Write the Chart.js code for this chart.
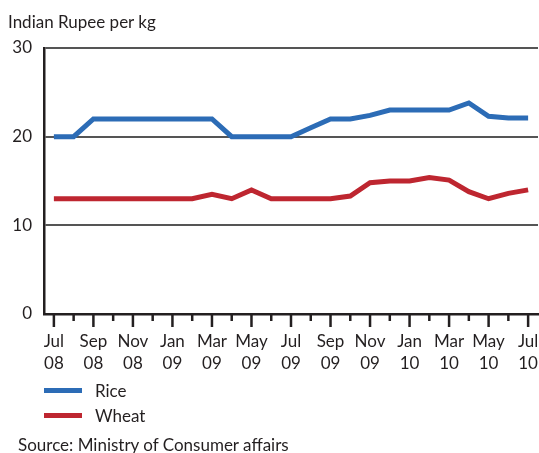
<!DOCTYPE html>
<html>
<head>
<meta charset="utf-8">
<script src="https://cdn.jsdelivr.net/npm/chart.js@4/dist/chart.umd.min.js"></script>
<style>
  html, body { margin: 0; padding: 0; background: #fff; }
  #wrap { position: relative; width: 539px; height: 453px; font-family: Lato, "Open Sans", sans-serif; color: #231f20; }
  canvas { position: absolute; left: 0; top: 0; }
  .txt { position: absolute; font-size: 17px; white-space: nowrap; line-height: 1; }
  .sw { position: absolute; height: 5px; width: 38px; }
</style>
</head>
<body>
<div id="wrap">
  <canvas id="c" width="539" height="453"></canvas>
  <div class="txt" id="title" style="left:8px; top:13px;">Indian Rupee per kg</div>
  <div class="sw" style="left:44px; top:388px; background:#2c6cb6;"></div>
  <div class="txt" style="left:95px; top:382px;">Rice</div>
  <div class="sw" style="left:44px; top:413px; background:#be2630;"></div>
  <div class="txt" style="left:95px; top:407px;">Wheat</div>
  <div class="txt" style="left:18px; top:436px;">Source: Ministry of Consumer affairs</div>
</div>
<script>
const months = ["Jul 08","Aug 08","Sep 08","Oct 08","Nov 08","Dec 08","Jan 09","Feb 09","Mar 09","Apr 09","May 09","Jun 09",
                "Jul 09","Aug 09","Sep 09","Oct 09","Nov 09","Dec 09","Jan 10","Feb 10","Mar 10","Apr 10","May 10","Jun 10","Jul 10"];
const rice  = [20,20,22,22,22,22,22,22,22,20,20,20,20,21,22,22,22.4,23,23,23,23,23.8,22.3,22.1,22.1];
const wheat = [13,13,13,13,13,13,13,13,13.5,13,14,13,13,13,13,13.3,14.8,15,15,15.4,15.1,13.8,13,13.6,14];
const yTicks = [0,10,20,30];

const FONT = { family: 'Lato, "Open Sans", sans-serif', size: 17, lineHeight: 1.3 };

const tickPlugin = {
  id: 'xticks',
  afterDraw(chart) {
    const sc = chart.scales.x, ctx = chart.ctx, b = chart.chartArea.bottom;
    ctx.save();
    ctx.strokeStyle = '#231f20';
    ctx.lineWidth = 2.5;
    for (let i = 0; i < months.length; i++) {
      const x = sc.getPixelForTick(i);
      ctx.beginPath();
      ctx.moveTo(x, b);
      ctx.lineTo(x, b + (i % 2 === 0 ? 13 : 7));
      ctx.stroke();
    }
    ctx.restore();
  }
};

new Chart(document.getElementById('c'), {
  type: 'line',
  data: {
    labels: months,
    datasets: [
      { label: 'Rice', data: rice, borderColor: '#2c6cb6', borderWidth: 5, pointRadius: 0, tension: 0, fill: false },
      { label: 'Wheat', data: wheat, borderColor: '#be2630', borderWidth: 5, pointRadius: 0, tension: 0, fill: false }
    ]
  },
  options: {
    responsive: false,
    animation: false,
    layout: { padding: { top: 48, right: 1, left: 0, bottom: 0 } },
    plugins: { legend: { display: false }, title: { display: false }, tooltip: { enabled: false } },
    scales: {
      x: {
        type: 'category',
        offset: true,
        afterFit: s => { s.height = 139; s.paddingLeft = 0; s.paddingRight = 0; },
        grid: { drawOnChartArea: false, drawTicks: false },
        border: { color: '#231f20', width: 2.5 },
        ticks: {
          autoSkip: false, maxRotation: 0, minRotation: 0, padding: 16,
          color: '#231f20', font: FONT,
          callback: (v, i) => i % 2 === 0 ? months[i].split(' ') : ''
        }
      },
      y: {
        min: 0, max: 30,
        afterFit: s => { s.width = 44; },
        afterBuildTicks: s => { s.ticks = yTicks.map(v => ({ value: v })); },
        grid: { drawTicks: false, color: ctx => ctx.tick && ctx.tick.value === 0 ? 'rgba(0,0,0,0)' : '#555', lineWidth: 2 },
        border: { color: '#231f20', width: 2.5 },
        ticks: { padding: 12, color: '#231f20', font: { family: FONT.family, size: 17 } }
      }
    }
  },
  plugins: [tickPlugin]
});
</script>
</body>
</html>
